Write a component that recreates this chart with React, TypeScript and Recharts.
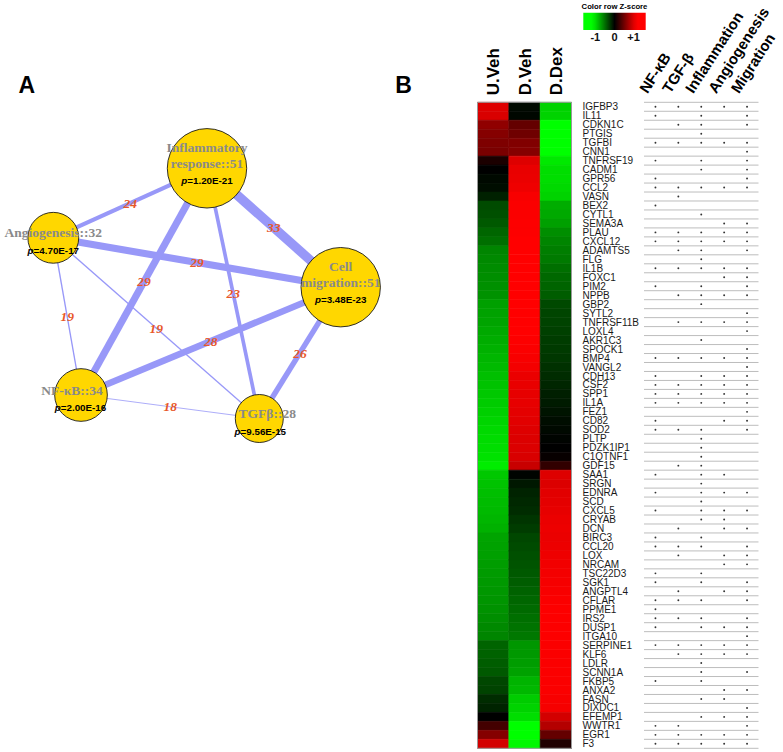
import React from 'react';
import {
  ScatterChart, Scatter, XAxis, YAxis, ZAxis, BarChart, Bar, Cell,
  ReferenceLine, ReferenceArea,
} from 'recharts';

const FONT = "Arial, 'Liberation Sans', sans-serif";
const SERIF = "'Times New Roman', 'Liberation Serif', serif";

// ---------------- Panel B data ----------------
const genes = [
  'IGFBP3', 'IL11', 'CDKN1C', 'PTGIS', 'TGFBI', 'CNN1', 'TNFRSF19', 'CADM1', 'GPR56', 'CCL2',
  'VASN', 'BEX2', 'CYTL1', 'SEMA3A', 'PLAU', 'CXCL12', 'ADAMTS5', 'FLG', 'IL1B', 'FOXC1',
  'PIM2', 'NPPB', 'GBP2', 'SYTL2', 'TNFRSF11B', 'LOXL4', 'AKR1C3', 'SPOCK1', 'BMP4', 'VANGL2',
  'CDH13', 'CSF2', 'SPP1', 'IL1A', 'FEZ1', 'CD82', 'SOD2', 'PLTP', 'PDZK1IP1', 'C1QTNF1',
  'GDF15', 'SAA1', 'SRGN', 'EDNRA', 'SCD', 'CXCL5', 'CRYAB', 'DCN', 'BIRC3', 'CCL20',
  'LOX', 'NRCAM', 'TSC22D3', 'SGK1', 'ANGPTL4', 'CFLAR', 'PPME1', 'IRS2', 'DUSP1', 'ITGA10',
  'SERPINE1', 'KLF6', 'LDLR', 'SCNN1A', 'FKBP5', 'ANXA2', 'FASN', 'DIXDC1', 'EFEMP1', 'WWTR1',
  'EGR1', 'F3',
];

const zUVeh = [
  1.0, 0.98, 0.65, 0.6, 0.57, 0.55, 0.12, 0.0, -0.04, -0.06,
  -0.15, -0.34, -0.36, -0.4, -0.46, -0.5, -0.6, -0.62, -0.63, -0.64,
  -0.65, -0.66, -0.72, -0.73, -0.74, -0.76, -0.78, -0.8, -0.82, -0.84,
  -0.86, -0.88, -0.9, -0.92, -0.94, -0.96, -0.98, -0.99, -1.0, -1.02,
  -1.07, -0.9, -0.88, -0.86, -0.85, -0.84, -0.82, -0.8, -0.74, -0.73,
  -0.72, -0.71, -0.7, -0.69, -0.68, -0.67, -0.66, -0.64, -0.62, -0.6,
  -0.45, -0.44, -0.42, -0.4, -0.32, -0.3, -0.2, -0.16, 0.0, 0.3,
  0.6, 0.95,
];
const zDVeh = [
  -0.05, -0.03, 0.45, 0.5, 0.58, 0.6, 1.0, 1.05, 1.06, 1.08,
  1.12, 1.13, 1.13, 1.14, 1.14, 1.15, 1.15, 1.15, 1.15, 1.15,
  1.15, 1.15, 1.15, 1.15, 1.15, 1.15, 1.14, 1.13, 1.12, 1.1,
  1.06, 1.05, 1.04, 1.04, 1.03, 1.02, 1.0, 0.99, 0.99, 0.98,
  0.9, -0.02, -0.11, -0.16, -0.18, -0.2, -0.24, -0.27, -0.32, -0.34,
  -0.36, -0.38, -0.4, -0.42, -0.44, -0.46, -0.48, -0.5, -0.52, -0.54,
  -0.68, -0.69, -0.71, -0.73, -0.81, -0.83, -0.92, -0.95, -1.0, -1.15,
  -1.15, -1.12,
];
const zDDex = [
  -0.95, -0.95, -1.15, -1.15, -1.15, -1.15, -1.05, -1.0, -1.0, -0.98,
  -0.95, -0.78, -0.76, -0.72, -0.64, -0.6, -0.57, -0.55, -0.5, -0.47,
  -0.45, -0.42, -0.33, -0.31, -0.3, -0.29, -0.27, -0.26, -0.25, -0.22,
  -0.2, -0.17, -0.14, -0.12, -0.09, -0.06, -0.04, -0.02, 0.0, 0.03,
  0.22, 1.0, 0.99, 1.02, 1.03, 1.04, 1.06, 1.07, 1.06, 1.07,
  1.08, 1.09, 1.1, 1.11, 1.12, 1.13, 1.14, 1.14, 1.14, 1.14,
  1.13, 1.13, 1.13, 1.13, 1.13, 1.13, 1.12, 1.11, 0.95, 0.81,
  0.45, 0.14,
];

const sampleNames = ['U.Veh', 'D.Veh', 'D.Dex'];
const annotationNames = ['NF-κB', 'TGF-β', 'Inflammation', 'Angiogenesis', 'Migration'];

const nfkbGenes = ['IGFBP3', 'IL11', 'TGFBI', 'TNFRSF19', 'GPR56', 'CCL2', 'BEX2', 'PLAU', 'CXCL12', 'IL1B', 'PIM2', 'BMP4', 'CDH13', 'CSF2', 'SPP1', 'IL1A', 'CD82', 'SOD2', 'SAA1', 'EDNRA', 'CXCL5', 'BIRC3', 'CCL20', 'TSC22D3', 'SGK1', 'CFLAR', 'PPME1', 'IRS2', 'DUSP1', 'SERPINE1', 'FKBP5', 'WWTR1', 'EGR1', 'F3'];
const tgfbGenes = ['IGFBP3', 'CDKN1C', 'TGFBI', 'CCL2', 'VASN', 'PLAU', 'CXCL12', 'ADAMTS5', 'IL1B', 'NPPB', 'TNFRSF11B', 'BMP4', 'CSF2', 'SPP1', 'IL1A', 'SOD2', 'GDF15', 'DCN', 'CCL20', 'LOX', 'ANGPTL4', 'CFLAR', 'IRS2', 'SERPINE1', 'KLF6', 'WWTR1', 'EGR1', 'F3'];
const inflGenes = ['IGFBP3', 'IL11', 'CDKN1C', 'PTGIS', 'TGFBI', 'TNFRSF19', 'CADM1', 'CCL2', 'CYTL1', 'PLAU', 'CXCL12', 'ADAMTS5', 'FLG', 'IL1B', 'PIM2', 'NPPB', 'GBP2', 'TNFRSF11B', 'AKR1C3', 'BMP4', 'CDH13', 'CSF2', 'SPP1', 'IL1A', 'SOD2', 'PLTP', 'PDZK1IP1', 'C1QTNF1', 'GDF15', 'SAA1', 'SRGN', 'EDNRA', 'SCD', 'CXCL5', 'CRYAB', 'BIRC3', 'CCL20', 'TSC22D3', 'SGK1', 'CFLAR', 'IRS2', 'DUSP1', 'SERPINE1', 'KLF6', 'LDLR', 'SCNN1A', 'FKBP5', 'FASN', 'EFEMP1', 'EGR1', 'F3'];
const angioGenes = ['IGFBP3', 'TGFBI', 'CCL2', 'SEMA3A', 'PLAU', 'CXCL12', 'IL1B', 'FOXC1', 'NPPB', 'TNFRSF11B', 'BMP4', 'CDH13', 'CSF2', 'SPP1', 'IL1A', 'CD82', 'SAA1', 'EDNRA', 'CXCL5', 'CRYAB', 'DCN', 'LOX', 'NRCAM', 'ANGPTL4', 'DUSP1', 'SERPINE1', 'KLF6', 'ANXA2', 'FASN', 'EFEMP1', 'EGR1', 'F3'];
const migrGenes = ['IGFBP3', 'IL11', 'CDKN1C', 'TGFBI', 'CNN1', 'TNFRSF19', 'CADM1', 'GPR56', 'CCL2', 'SEMA3A', 'PLAU', 'CXCL12', 'ADAMTS5', 'IL1B', 'FOXC1', 'PIM2', 'NPPB', 'SYTL2', 'TNFRSF11B', 'LOXL4', 'SPOCK1', 'BMP4', 'VANGL2', 'CDH13', 'CSF2', 'SPP1', 'IL1A', 'FEZ1', 'CD82', 'SOD2', 'EDNRA', 'CXCL5', 'DCN', 'CCL20', 'LOX', 'NRCAM', 'SGK1', 'ANGPTL4', 'CFLAR', 'IRS2', 'DUSP1', 'ITGA10', 'SERPINE1', 'KLF6', 'SCNN1A', 'ANXA2', 'DIXDC1', 'EFEMP1', 'WWTR1', 'EGR1', 'F3'];
const annotationSets = [nfkbGenes, tgfbGenes, inflGenes, angioGenes, migrGenes];

const legendTicks = [-1, 0, 1];
const Z_SAT = 1.15;
const Z_LEGEND = 1.63;

// ---------------- Panel A data ----------------
const networkNodes = [
  { id: 'infl', lines: ['Inflammatory', 'response::51'], count: 51, p: '1.20E-21' },
  { id: 'angio', lines: ['Angiogenesis::32'], count: 32, p: '4.70E-17' },
  { id: 'migr', lines: ['Cell', 'migration::51'], count: 51, p: '3.48E-23' },
  { id: 'nfkb', lines: ['NF-κB::34'], count: 34, p: '2.00E-16' },
  { id: 'tgfb', lines: ['TGFβ::28'], count: 28, p: '9.56E-15' },
];
// layout coordinates of the network (layout units)
const networkLayout = [
  { id: 'infl', x: 207, y: 168.3, nameDx: 0, pDx: 0 },
  { id: 'angio', x: 53.3, y: 237.8, nameDx: 0, pDx: 0 },
  { id: 'migr', x: 340.7, y: 287.2, nameDx: 0, pDx: 0 },
  { id: 'nfkb', x: 81, y: 395, nameDx: -9, pDx: -0.5 },
  { id: 'tgfb', x: 259.3, y: 418.5, nameDx: 8, pDx: 1 },
];
const networkEdges = [
  { a: 'infl', b: 'angio', w: 24 },
  { a: 'infl', b: 'migr', w: 33 },
  { a: 'angio', b: 'migr', w: 29 },
  { a: 'infl', b: 'nfkb', w: 29 },
  { a: 'infl', b: 'tgfb', w: 23 },
  { a: 'angio', b: 'nfkb', w: 19 },
  { a: 'angio', b: 'tgfb', w: 19 },
  { a: 'migr', b: 'nfkb', w: 28 },
  { a: 'migr', b: 'tgfb', w: 26 },
  { a: 'nfkb', b: 'tgfb', w: 18 },
];

// ---------------- helpers ----------------
function zColor(z: number) {
  const t = Math.min(1, Math.abs(z) / Z_SAT);
  const v = Math.round(255 * t);
  return z >= 0 ? `rgb(${v},0,0)` : `rgb(0,${v},0)`;
}

const nodes = networkNodes.map((n) => {
  const l = networkLayout.find((q) => q.id === n.id)!;
  return { ...n, ...l };
});
const nodeById = (id: string) => nodes.find((n) => n.id === id)!;
const edgeWidth = (w: number) => 0.8 + (w - 18) * 0.57;
const edgeLabels = networkEdges.map((e) => {
  const a = nodeById(e.a);
  const b = nodeById(e.b);
  return { x: (a.x + b.x) / 2, y: (a.y + b.y) / 2, w: e.w };
});
const counts = networkNodes.map((n) => n.count);
const zKey = (d: any) => Math.pow(d.count, 4);

const heatRows = genes.map((g) => ({ gene: g, u: 1, dv: 1, dd: 1 }));
const rowBoundaries = [0, ...genes.map((_, i) => i + 1)];
const dots: { x: number; y: number }[] = [];
annotationSets.forEach((set, k) => {
  set.forEach((g) => {
    const r = genes.indexOf(g);
    if (r >= 0) dots.push({ x: k + 0.5, y: r + 0.5 });
  });
});

const gradStops = Array.from({ length: 17 }, (_, i) => -Z_LEGEND + (2 * Z_LEGEND * i) / 16);

// ---------------- shapes ----------------
const NodeShape = (props: any) => {
  const { cx, cy, width, payload } = props;
  const r = width / 2;
  const two = payload.lines.length === 2;
  return (
    <g>
      <circle cx={cx} cy={cy} r={r} fill="#FFD700" stroke="#1a1a1a" strokeWidth={0.9} />
      {payload.lines.map((ln: string, i: number) => (
        <text
          key={i}
          x={cx + payload.nameDx}
          y={cy + (two ? (i === 0 ? -16.5 : -0.5) : -0.5)}
          textAnchor="middle"
          fontFamily={SERIF}
          fontWeight="bold"
          fontSize={13.5}
          fill="#8a8a8a"
        >
          {ln}
        </text>
      ))}
      <text
        x={cx + payload.pDx}
        y={cy + 16}
        textAnchor="middle"
        fontFamily={FONT}
        fontWeight="bold"
        fontSize={9.8}
        fill="#000"
      >
        <tspan fontStyle="italic">p</tspan>={payload.p}
      </text>
    </g>
  );
};

const EdgeLabelShape = (props: any) => {
  const { cx, cy, payload } = props;
  return (
    <text
      x={cx}
      y={cy}
      dy="0.35em"
      textAnchor="middle"
      fontFamily={SERIF}
      fontStyle="italic"
      fontWeight="bold"
      fontSize={13.5}
      fill="#E8582A"
    >
      {payload.w}
    </text>
  );
};

const SampleTick = (props: any) => {
  const { x, y, payload } = props;
  const label = sampleNames[Math.floor(payload.value)];
  return (
    <text
      x={x}
      y={y}
      dy="0.36em"
      transform={`rotate(-90 ${x} ${y})`}
      textAnchor="start"
      fontFamily={FONT}
      fontWeight="bold"
      fontSize={17}
      fill="#000"
    >
      {label}
    </text>
  );
};

const AnnotTick = (props: any) => {
  const { x, y, payload } = props;
  const label = annotationNames[Math.floor(payload.value)];
  const ax = x - 8;
  return (
    <text
      x={ax}
      y={y}
      transform={`rotate(-57 ${ax} ${y})`}
      textAnchor="start"
      fontFamily={FONT}
      fontWeight="bold"
      fontSize={15}
      fill="#000"
    >
      {label}
    </text>
  );
};

const DotShape = (props: any) => {
  const { cx, cy } = props;
  return <circle cx={cx} cy={cy} r={0.95} fill="#333" />;
};

const abs = (left: number, top: number): React.CSSProperties => ({ position: 'absolute', left, top });

export default function App() {
  return (
    <div style={{ position: 'absolute', left: 0, top: 0, width: 783, height: 752, background: '#fff', overflow: 'hidden' }}>
      {/* shared gradient definition for the color key */}
      <svg width={0} height={0} style={{ position: 'absolute', left: 0, top: 0 }}>
        <defs>
          <linearGradient id="zgrad" x1="0" y1="0" x2="1" y2="0">
            {gradStops.map((z, i) => (
              <stop key={i} offset={`${(i / 16) * 100}%`} stopColor={zColor(z)} />
            ))}
          </linearGradient>
        </defs>
      </svg>

      {/* Panel A: network */}
      <div style={abs(0, 0)}>
        <ScatterChart width={420} height={500} margin={{ top: 0, right: 0, bottom: 0, left: 0 }} style={{ overflow: 'visible' }}>
          <XAxis type="number" dataKey="x" domain={[0, 420]} hide allowDataOverflow />
          <YAxis type="number" dataKey="y" domain={[0, 500]} reversed hide allowDataOverflow />
          <ZAxis
            type="number"
            dataKey={zKey}
            domain={[Math.pow(Math.min(...counts), 4), Math.pow(Math.max(...counts), 4)]}
            range={[Math.PI * 24 * 24, Math.PI * 39.7 * 39.7]}
          />
          {networkEdges.map((e, i) => (
            <Scatter
              key={`e${i}`}
              data={[nodeById(e.a), nodeById(e.b)]}
              line={{ stroke: '#9898F8', strokeWidth: edgeWidth(e.w) }}
              shape={() => <g />}
              legendType="none"
              isAnimationActive={false}
            />
          ))}
          <Scatter data={nodes} shape={NodeShape} isAnimationActive={false} />
          <Scatter data={edgeLabels} shape={EdgeLabelShape} isAnimationActive={false} />
        </ScatterChart>
      </div>

      {/* Panel B: heatmap */}
      <div style={abs(440, 0)}>
        <BarChart
          width={202}
          height={752}
          layout="vertical"
          data={heatRows}
          margin={{ top: 42.3, right: 0.5, bottom: 3.7, left: 37.5 }}
          barCategoryGap={0}
          barGap={0}
          style={{ overflow: 'visible' }}
        >
          <XAxis
            type="number"
            orientation="top"
            domain={[0, 3]}
            ticks={[0.5, 1.5, 2.5]}
            interval={0}
            height={60}
            tickLine={false}
            axisLine={false}
            tickSize={0}
            tickMargin={7}
            tick={(p: any) => <SampleTick {...p} />}
          />
          <YAxis
            type="category"
            dataKey="gene"
            orientation="right"
            width={70}
            axisLine={false}
            tickLine={false}
            tickSize={6}
            tickMargin={5}
            interval={0}
            tick={{ fontSize: 10, fill: '#1a1a1a', fontFamily: FONT }}
          />
          <Bar dataKey="u" stackId="s" isAnimationActive={false}>
            {zUVeh.map((z, i) => <Cell key={i} fill={zColor(z)} stroke={zColor(z)} strokeWidth={0.6} />)}
          </Bar>
          <Bar dataKey="dv" stackId="s" isAnimationActive={false}>
            {zDVeh.map((z, i) => <Cell key={i} fill={zColor(z)} stroke={zColor(z)} strokeWidth={0.6} />)}
          </Bar>
          <Bar dataKey="dd" stackId="s" isAnimationActive={false}>
            {zDDex.map((z, i) => <Cell key={i} fill={zColor(z)} stroke={zColor(z)} strokeWidth={0.6} />)}
          </Bar>
          <ReferenceLine x={0} stroke="#9a9a9a" strokeWidth={1} ifOverflow="visible" />
          <ReferenceLine x={3} stroke="#9a9a9a" strokeWidth={1} ifOverflow="visible" />
          <ReferenceLine y={genes[0]} position="start" stroke="#9a9a9a" strokeWidth={1} ifOverflow="visible" />
          <ReferenceLine y={genes[genes.length - 1]} position="end" stroke="#9a9a9a" strokeWidth={1} ifOverflow="visible" />
        </BarChart>
      </div>

      {/* Panel B: annotation table */}
      <div style={abs(600, 0)}>
        <ScatterChart width={183} height={752} margin={{ top: 42.3, right: 24.5, bottom: 3.7, left: 44 }} style={{ overflow: 'visible' }}>
          <XAxis
            type="number"
            dataKey="x"
            orientation="top"
            domain={[0, 5]}
            ticks={[0.5, 1.5, 2.5, 3.5, 4.5]}
            interval={0}
            height={60}
            tickLine={false}
            axisLine={false}
            tickSize={0}
            tickMargin={8}
            tick={(p: any) => <AnnotTick {...p} />}
          />
          <YAxis type="number" dataKey="y" domain={[0, genes.length]} reversed hide />
          {rowBoundaries.map((b) => (
            <ReferenceLine key={b} y={b} stroke="#bdbdbd" strokeWidth={1} ifOverflow="visible" />
          ))}
          <Scatter data={dots} shape={DotShape} isAnimationActive={false} />
        </ScatterChart>
      </div>

      {/* Color key */}
      <div style={abs(560, 0)}>
        <ScatterChart width={110} height={50} margin={{ top: 12.7, right: 24.3, bottom: 0, left: 23.3 }} style={{ overflow: 'visible' }}>
          <XAxis
            type="number"
            dataKey="x"
            domain={[-Z_LEGEND, Z_LEGEND]}
            ticks={legendTicks}
            interval={0}
            allowDataOverflow
            height={20}
            tickLine={false}
            axisLine={false}
            tickSize={0}
            tickMargin={3}
            tickFormatter={(v: number) => (v > 0 ? `+${v}` : `${v}`)}
            tick={{ fontSize: 11, fontWeight: 'bold', fill: '#111', fontFamily: FONT }}
          />
          <YAxis type="number" dataKey="y" domain={[0, 1]} allowDataOverflow hide />
          <ReferenceArea x1={-Z_LEGEND} x2={Z_LEGEND} y1={0} y2={1} fill="url(#zgrad)" fillOpacity={1} stroke="none" ifOverflow="visible" />
          <Scatter data={[{ x: 0, y: 0.5 }]} shape={() => <g />} isAnimationActive={false} />
        </ScatterChart>
      </div>

      {/* Free text */}
      <svg width={783} height={752} style={{ position: 'absolute', left: 0, top: 0, pointerEvents: 'none' }}>
        <text x={26.7} y={93.3} textAnchor="middle" fontFamily={FONT} fontWeight="bold" fontSize={23} fill="#000">A</text>
        <text x={403.5} y={93.3} textAnchor="middle" fontFamily={FONT} fontWeight="bold" fontSize={23} fill="#000">B</text>
        <text x={614.5} y={8.8} textAnchor="middle" fontFamily={FONT} fontWeight="bold" fontSize={7.7} fill="#000">Color row Z-score</text>
      </svg>
    </div>
  );
}
